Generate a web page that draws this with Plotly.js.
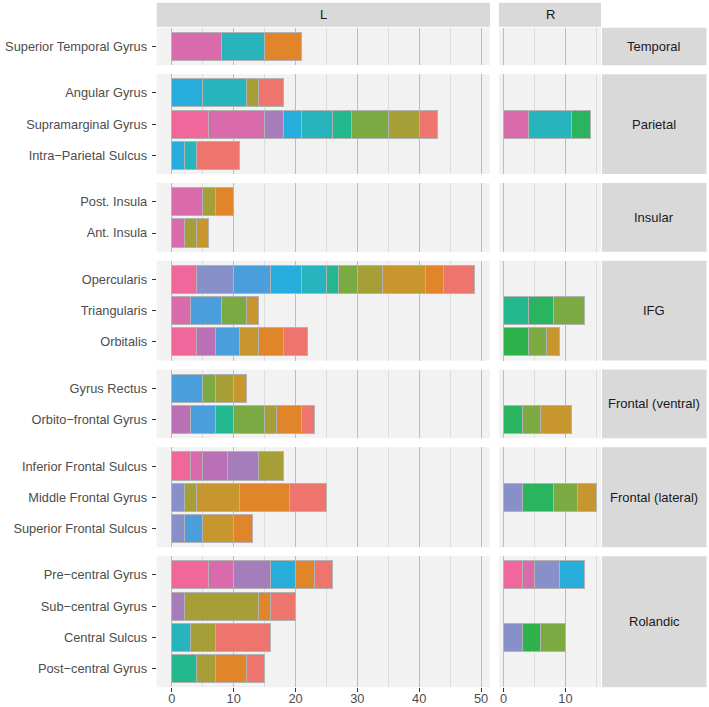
<!DOCTYPE html>
<html>
<head>
<meta charset="utf-8">
<script src="https://cdn.plot.ly/plotly-3.0.1.min.js"></script>
<style>html,body{margin:0;padding:0;background:#fff;}#chart{width:709px;height:707px;}</style>
</head>
<body>
<div id="chart"></div>
<script>
// ---------- DATA ----------
const sides = ["L", "R"];
const regions = ["Temporal", "Parietal", "Insular", "IFG", "Frontal (ventral)", "Frontal (lateral)", "Rolandic"];
const regionAreas = [
  ["Superior Temporal Gyrus"],
  ["Angular Gyrus", "Supramarginal Gyrus", "Intra\u2212Parietal Sulcus"],
  ["Post. Insula", "Ant. Insula"],
  ["Opercularis", "Triangularis", "Orbitalis"],
  ["Gyrus Rectus", "Orbito\u2212frontal Gyrus"],
  ["Inferior Frontal Sulcus", "Middle Frontal Gyrus", "Superior Frontal Sulcus"],
  ["Pre\u2212central Gyrus", "Sub\u2212central Gyrus", "Central Sulcus", "Post\u2212central Gyrus"]
];
// category colours, in stacking order (left to right)
const categoryColors = [
  "#F0679C", "#D96AAB", "#B970B5", "#A67DBB", "#8790C9", "#4A9EDB", "#26ADDC", "#27B4BD",
  "#24B88F", "#2AB460", "#2EB24C", "#7BAA42", "#A69F37", "#C8962F", "#E0852A", "#EE756D"
];
// segments per area: [category index, count]; same order as regionAreas (flattened)
const segmentsL = [
  [[1,8],[7,7],[14,6]],
  [[6,5],[7,7],[12,2],[15,4]],
  [[0,6],[1,9],[3,3],[6,3],[7,5],[8,3],[11,6],[12,5],[15,3]],
  [[6,2],[7,2],[15,7]],
  [[1,5],[12,2],[14,3]],
  [[1,2],[12,2],[13,2]],
  [[0,4],[4,6],[5,6],[6,5],[7,4],[8,2],[11,3],[12,4],[13,7],[14,3],[15,5]],
  [[1,3],[5,5],[11,4],[13,2]],
  [[0,4],[2,3],[5,4],[13,3],[14,4],[15,4]],
  [[5,5],[11,2],[12,3],[13,2]],
  [[2,3],[5,4],[8,3],[11,5],[12,2],[14,4],[15,2]],
  [[0,3],[1,2],[2,4],[3,5],[12,4]],
  [[4,2],[12,2],[13,7],[14,8],[15,6]],
  [[4,2],[5,3],[13,5],[14,3]],
  [[0,6],[1,4],[3,6],[6,4],[14,3],[15,3]],
  [[3,2],[12,12],[14,2],[15,4]],
  [[7,3],[12,4],[15,9]],
  [[8,4],[12,3],[14,5],[15,3]]
];
const segmentsR = [
  [],
  [],
  [[1,4],[7,7],[9,3]],
  [],
  [],
  [],
  [],
  [[8,4],[9,4],[11,5]],
  [[10,4],[11,3],[13,2]],
  [],
  [[9,3],[11,3],[13,5]],
  [],
  [[4,3],[9,5],[11,4],[13,3]],
  [],
  [[0,3],[1,2],[4,4],[6,4]],
  [],
  [[4,3],[10,3],[11,4]],
  []
];
const xTicksL = [0, 10, 20, 30, 40, 50];
const xTicksR = [0, 10];

// ---------- LAYOUT GEOMETRY ----------
const W = 709, H = 707;
const fx = p => p / W;
const fy = p => 1 - p / H;
const panelTop = 27.7, panelBottom = 687.3, rowGap = 9.0;
const Lx0 = 156.7, Lx1 = 490.0, Rx0 = 499.0, Rx1 = 601.0;
const stripX0 = 602.0, stripX1 = 706.5;
const units = regionAreas.map(a => a.length + 0.2);
const totalUnits = units.reduce((a, b) => a + b, 0);
const unitPx = (panelBottom - panelTop - rowGap * (regions.length - 1)) / totalUnits;

const panelBg = "#F2F2F2", stripBg = "#D9D9D9";
const fontFam = "Liberation Sans, Arial, Helvetica, sans-serif";
const tickFont = {family: fontFam, size: 12.8, color: "#4D4D4D"};
const stripFont = {family: fontFam, size: 13, color: "#1A1A1A"};

const layout = {
  width: W, height: H,
  margin: {l: 0, r: 0, t: 0, b: 0},
  paper_bgcolor: "#FFFFFF", plot_bgcolor: "rgba(0,0,0,0)",
  showlegend: false, barmode: "stack", bargap: 0.1,
  shapes: [], annotations: [],
  font: {family: fontFam}
};

const lastY = "y" + regions.length;
function xAxis(x0, x1, range, ticks) {
  return {
    domain: [fx(x0), fx(x1)], range: range, anchor: lastY,
    tickmode: "array", tickvals: ticks, ticktext: ticks.map(String),
    ticks: "outside", ticklen: 4, tickwidth: 1, tickcolor: "#333333",
    ticklabelstandoff: -5,
    tickfont: tickFont, showgrid: true, gridcolor: "#BDBDBD", gridwidth: 1,
    minor: {dtick: 5, tick0: 0, showgrid: true, gridcolor: "#DCDCDC", gridwidth: 1, ticks: ""},
    zeroline: false, showline: false, fixedrange: true
  };
}
layout.xaxis = xAxis(Lx0, Lx1, [-2.45, 51.45], xTicksL);
layout.xaxis2 = xAxis(Rx0, Rx1, [-0.75, 15.75], xTicksR);

const traces = [];
let topPx = panelTop;
let flatIdx = 0;
regions.forEach((reg, i) => {
  const areas = regionAreas[i];
  const h = units[i] * unitPx;
  const y0 = topPx, y1 = topPx + h;
  const yid = i === 0 ? "y" : "y" + (i + 1);
  const ykey = i === 0 ? "yaxis" : "yaxis" + (i + 1);
  layout[ykey] = {
    domain: [fy(y1), fy(y0)], anchor: "x", type: "category",
    categoryorder: "array", categoryarray: areas,
    range: [areas.length - 1 + 0.6, -0.6],
    ticks: "outside", ticklen: 4, tickwidth: 1, tickcolor: "#333333",
    ticklabelstandoff: 2,
    tickfont: tickFont, showgrid: false, zeroline: false, showline: false, fixedrange: true
  };
  // panel backgrounds
  [[Lx0, Lx1], [Rx0, Rx1]].forEach(([a, b]) => {
    layout.shapes.push({type: "rect", xref: "paper", yref: "paper", layer: "below",
      x0: fx(a), x1: fx(b), y0: fy(y1), y1: fy(y0), fillcolor: panelBg, line: {width: 0}});
  });
  // right strip
  layout.shapes.push({type: "rect", xref: "paper", yref: "paper", layer: "below",
    x0: fx(stripX0), x1: fx(stripX1), y0: fy(y1), y1: fy(y0), fillcolor: stripBg, line: {width: 0}});
  layout.annotations.push({xref: "paper", yref: "paper", x: fx((stripX0 + stripX1) / 2), y: fy((y0 + y1) / 2),
    text: reg, showarrow: false, font: stripFont, xanchor: "center", yanchor: "middle"});

  // bars
  sides.forEach((side, s) => {
    const segs = s === 0 ? segmentsL : segmentsR;
    const xid = s === 0 ? "x" : "x2";
    // ensure subplot exists
    traces.push({type: "scatter", mode: "markers", x: [], y: [], xaxis: xid, yaxis: yid, hoverinfo: "skip"});
    categoryColors.forEach((col, c) => {
      const xs = [], ys = [];
      areas.forEach((area, k) => {
        segs[flatIdx + k].forEach(([cat, v]) => {
          if (cat === c) { xs.push(v); ys.push(area); }
        });
      });
      if (xs.length) {
        traces.push({type: "bar", orientation: "h", x: xs, y: ys, xaxis: xid, yaxis: yid,
          name: "category " + (c + 1),
          marker: {color: col, line: {color: "#B3B3B3", width: 1}}, hoverinfo: "x+y"});
      }
    });
  });
  flatIdx += areas.length;
  topPx = y1 + rowGap;
});

// top strips
[["L", Lx0, Lx1], ["R", Rx0, Rx1]].forEach(([t, a, b]) => {
  layout.shapes.push({type: "rect", xref: "paper", yref: "paper", layer: "below",
    x0: fx(a), x1: fx(b), y0: fy(26.7), y1: fy(2.7), fillcolor: stripBg, line: {width: 0}});
  layout.annotations.push({xref: "paper", yref: "paper", x: fx((a + b) / 2), y: fy(14.7),
    text: t, showarrow: false, font: stripFont, xanchor: "center", yanchor: "middle"});
});

Plotly.newPlot("chart", traces, layout, {staticPlot: true, displayModeBar: false});
</script>
</body>
</html>
